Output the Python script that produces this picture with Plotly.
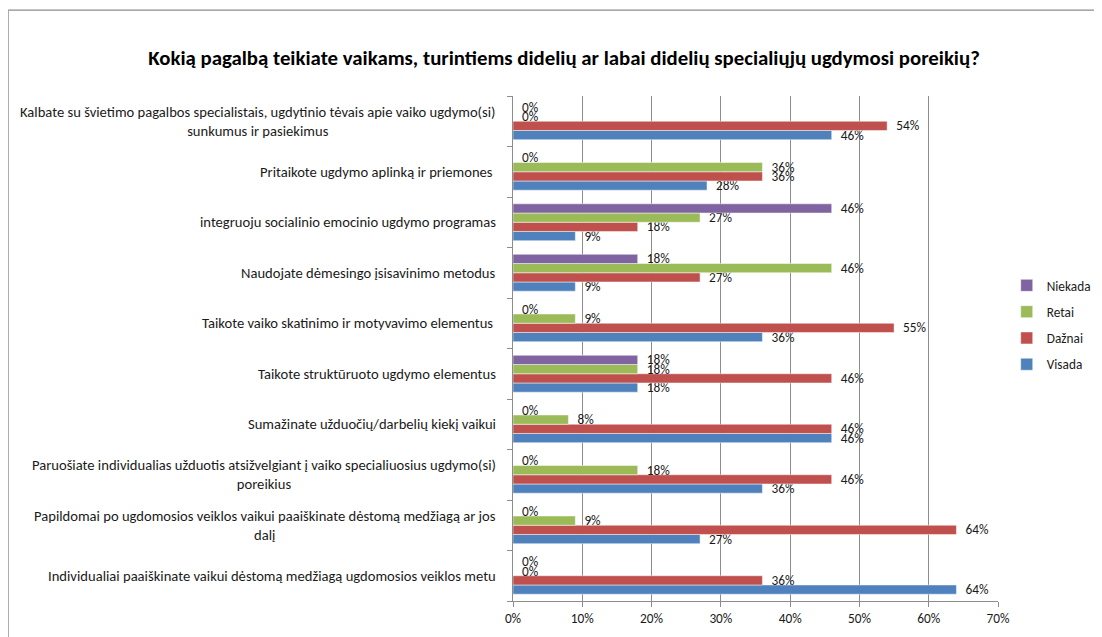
import plotly.graph_objects as go

categories = [
    "Individualiai paaiškinate vaikui dėstomą medžiagą ugdomosios veiklos metu",
    "Papildomai po ugdomosios veiklos vaikui paaiškinate dėstomą medžiagą ar jos<br>dalį",
    "Paruošiate individualias užduotis atsižvelgiant į vaiko specialiuosius ugdymo(si)<br>poreikius",
    "Sumažinate užduočių/darbelių kiekį vaikui",
    "Taikote struktūruoto ugdymo elementus",
    "Taikote vaiko skatinimo ir motyvavimo elementus ",
    "Naudojate dėmesingo įsisavinimo metodus",
    "integruoju socialinio emocinio ugdymo programas",
    "Pritaikote ugdymo aplinką ir priemones ",
    "Kalbate su švietimo pagalbos specialistais, ugdytinio tėvais apie vaiko ugdymo(si)<br>sunkumus ir pasiekimus",
]

visada = [64, 27, 36, 46, 18, 36, 9, 9, 28, 46]
daznai = [36, 64, 46, 46, 46, 55, 27, 18, 36, 54]
retai = [0, 9, 18, 8, 18, 9, 46, 27, 36, 0]
niekada = [0, 0, 0, 0, 18, 0, 18, 46, 0, 0]

series_names = ["Visada", "Dažnai", "Retai", "Niekada"]
series_values = [visada, daznai, retai, niekada]
series_colors = ["#4F81BD", "#C0504D", "#9BBB59", "#8064A2"]
legend_ranks = [4, 3, 2, 1]

x_ticks = [0, 10, 20, 30, 40, 50, 60, 70]

title_text = "Kokią pagalbą teikiate vaikams, turintiems didelių ar labai didelių specialiųjų ugdymosi poreikių?"

FONT = "Carlito, Calibri, Lato, sans-serif"
TXT = "#1a1a1a"
GRID = "#8c8c8c"
ids = [f"c{i}" for i in range(len(categories))]

fig = go.Figure()
for name, vals, col, rank in zip(series_names, series_values, series_colors, legend_ranks):
    fig.add_trace(go.Bar(
        name=name,
        y=ids,
        x=vals,
        orientation="h",
        marker=dict(color=col, line=dict(color="rgba(255,255,255,0.6)", width=0.8)),
        text=["\u00a0\u00a0" + f"{v}%" for v in vals],
        textposition="outside",
        constraintext="none",
        textfont=dict(family=FONT, size=13.3, color=TXT),
        cliponaxis=False,
        legendgroup=name,
        legendrank=rank,
        hoverinfo="skip",
    ))

for cid, label in zip(ids, categories):
    fig.add_annotation(
        x=-0.031, xref="paper", y=cid, yref="y",
        text=label, showarrow=False, xanchor="right", yanchor="middle",
        align="center", font=dict(family=FONT, size=14.6, color=TXT),
    )

# chart frame (left and top edges visible)
fig.add_shape(type="line", xref="paper", yref="paper", x0=-1.041, x1=1.3, y0=1.170, y1=1.170,
              line=dict(color="#8c8c8c", width=1.2))
fig.add_shape(type="line", xref="paper", yref="paper", x0=-1.041, x1=-1.041, y0=-0.2, y1=1.170,
              line=dict(color="#8c8c8c", width=1.2))

fig.update_layout(
    width=1094, height=629,
    margin=dict(l=505, r=104, t=88, b=36, autoexpand=False),
    paper_bgcolor="white", plot_bgcolor="white",
    barmode="group", bargap=0.27, bargroupgap=0,
    title=dict(text="<b>" + title_text + "</b>", x=(564 - 8) / 1094, xanchor="center",
               y=1 - 50 / 629, yanchor="middle",
               font=dict(family=FONT, size=20.8, color="#000000")),
    legend=dict(x=1.018, xanchor="left", y=0.655, yanchor="top",
                traceorder="grouped", tracegroupgap=6,
                font=dict(family=FONT, size=13.3, color=TXT),
                bgcolor="rgba(0,0,0,0)"),
    showlegend=True,
    font=dict(family=FONT, size=13.3, color=TXT),
)

fig.update_xaxes(
    range=[0, 70], tickvals=x_ticks, ticktext=[f"{t}%" for t in x_ticks],
    showgrid=True, gridcolor=GRID, gridwidth=1,
    showline=True, linecolor=GRID, linewidth=1,
    ticks="outside", ticklen=5, tickcolor=GRID,
    zeroline=False, fixedrange=True,
    tickfont=dict(family=FONT, size=13.3, color=TXT),
)
fig.update_yaxes(
    type="category", categoryorder="array", categoryarray=ids,
    showticklabels=False, showgrid=False,
    showline=True, linecolor=GRID, linewidth=1,
    ticks="outside", ticklen=5, tickcolor=GRID, tickson="boundaries",
    fixedrange=True,
)

fig.write_html("out.html")
